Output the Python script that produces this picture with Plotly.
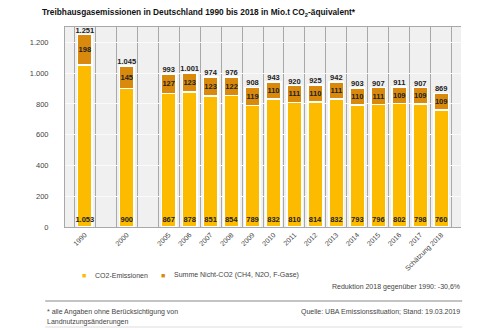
import plotly.graph_objects as go

years = ["1990", " ", "2000", "  ", "2005", "2006", "2007", "2008", "2009", "2010",
         "2011", "2012", "2013", "2014", "2015", "2016", "2017", "Schätzung 2018"]
co2 = [1053, None, 900, None, 867, 878, 851, 854, 789, 832, 810, 814, 832, 793, 796, 802, 798, 760]
non_co2 = [198, None, 145, None, 127, 123, 123, 122, 119, 110, 111, 110, 111, 110, 111, 109, 109, 109]
totals = [1251, None, 1045, None, 993, 1001, 974, 976, 908, 943, 920, 925, 942, 903, 907, 911, 907, 869]
y_ticks = [0, 200, 400, 600, 800, 1000, 1200]
series_names = ["CO2-Emissionen", "Summe Nicht-CO2 (CH4, N2O, F-Gase)"]

YELLOW = "#FDBB00"
ORANGE = "#D98A0C"
LBL = dict(family="Liberation Sans, Arial, sans-serif", size=7.5, color="#222")

fig = go.Figure()
fig.add_trace(go.Bar(x=years, y=co2, name=series_names[0],
                     marker=dict(color=YELLOW, line=dict(color="white", width=1.5)),
                     texttemplate="<b>%{y:,}</b>", textposition="inside", insidetextanchor="start",
                     textangle=0, constraintext="none", textfont=LBL, showlegend=False,
                     hoverinfo="skip", cliponaxis=False))
fig.add_trace(go.Bar(x=years, y=non_co2, name=series_names[1],
                     marker=dict(color=ORANGE, line=dict(color="white", width=1.5)),
                     texttemplate="<b>%{y:,}</b>", textposition="inside", insidetextanchor="middle",
                     textangle=0, constraintext="none", textfont=LBL, showlegend=False,
                     hoverinfo="skip", cliponaxis=False))
fig.add_trace(go.Scatter(x=years, y=totals, mode="text",
                         text=[f"<b>{t:,}</b>".replace(",", ".") if t else "" for t in totals],
                         textposition="top center", textfont=LBL, showlegend=False,
                         hoverinfo="skip", cliponaxis=False))

gray = "#444"
fig.update_layout(
    width=495, height=330, barmode="stack", bargap=0.3,
    margin=dict(l=65, r=34, t=27, b=103),
    paper_bgcolor="white", plot_bgcolor="#F0F0F0",
    separators=",.",
    font=dict(family="Liberation Sans, Arial, sans-serif", size=7, color=gray),
    xaxis=dict(type="category", categoryorder="array", categoryarray=years,
               tickson="boundaries", showgrid=True, gridcolor="#A8A8A8", gridwidth=1,
               tickangle=-45, ticks="", tickfont=dict(size=7, color=gray),
               showline=True, linecolor="#A8A8A8", mirror=True, fixedrange=True),
    yaxis=dict(range=[0, 1300], tickvals=y_ticks,
               ticktext=[f"{v:,}".replace(",", ".") for v in y_ticks],
               showgrid=True, gridcolor="#FAFAFA", gridwidth=1, zeroline=False,
               showline=True, linecolor="#A8A8A8", ticks="", ticklabelstandoff=14,
               tickfont=dict(size=7.5, color=gray), fixedrange=True),
    showlegend=False,
)

anns = [
    dict(text="<b>Treibhausgasemissionen in Deutschland 1990 bis 2018 in Mio.t CO<sub>2</sub>-äquivalent*</b>",
         x=-0.063, y=1.07, xanchor="left", yanchor="middle", font=dict(size=8.3, color="#111")),
    # legend
    dict(text="■", x=0.048, y=-0.24, xanchor="center", yanchor="middle", font=dict(size=7, color=YELLOW)),
    dict(text=series_names[0], x=0.0707, y=-0.24, xanchor="left", yanchor="middle"),
    dict(text="■", x=0.247, y=-0.24, xanchor="center", yanchor="middle", font=dict(size=7, color=ORANGE)),
    dict(text=series_names[1], x=0.270, y=-0.24, xanchor="left", yanchor="middle"),
    dict(text="Reduktion 2018 gegenüber 1990: -30,6%", x=1.003, y=-0.30, xanchor="right", yanchor="middle"),
    dict(text="* alle Angaben ohne Berücksichtigung von", x=-0.05, y=-0.425, xanchor="left", yanchor="middle"),
    dict(text="Landnutzungsänderungen", x=-0.05, y=-0.475, xanchor="left", yanchor="middle"),
    dict(text="Quelle: UBA Emissionssituation; Stand: 19.03.2019", x=1.003, y=-0.425, xanchor="right", yanchor="middle"),
]
for a in anns:
    a.update(xref="paper", yref="paper", showarrow=False)
    fig.add_annotation(**a)

fig.add_shape(type="line", xref="paper", yref="paper", x0=-0.05, x1=1.003, y0=-0.37, y1=-0.37,
              line=dict(color="#888", width=1))
fig.add_shape(type="line", xref="paper", yref="paper", x0=-0.05, x1=1.003, y0=-0.50, y1=-0.50,
              line=dict(color="#DDD", width=1))

fig.write_html("out.html")
